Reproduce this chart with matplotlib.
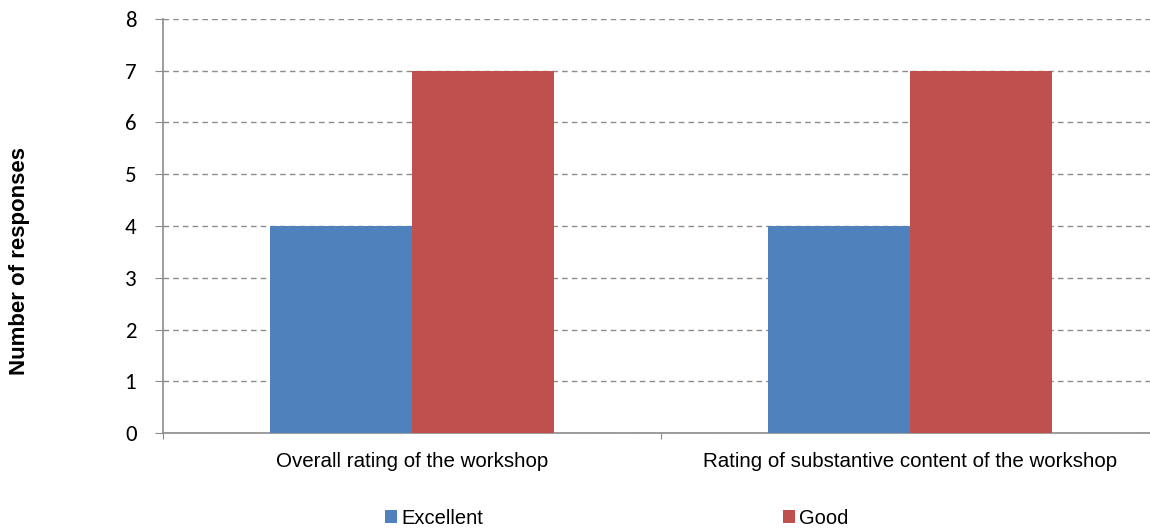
import matplotlib
matplotlib.use("Agg")
import matplotlib.pyplot as plt
from matplotlib.patches import Patch
import numpy as np

categories = ["Overall rating of the workshop", "Rating of substantive content of the workshop"]
series_names = ["Excellent", "Good"]
excellent = [4, 4]
good = [7, 7]
yticks = [0, 1, 2, 3, 4, 5, 6, 7, 8]

colors = ["#4F81BD", "#C0504D"]

plt.rcParams['font.family'] = ['Liberation Sans', 'DejaVu Sans']

fig = plt.figure(figsize=(11.5, 5.29), dpi=100)
ax = fig.add_axes([163/1150, 96/529, 996/1150, 414/529])

x = np.arange(len(categories))
w = 0.285
ax.bar(x - w/2, excellent, width=w, color=colors[0], zorder=3)
ax.bar(x + w/2, good, width=w, color=colors[1], zorder=3)

ax.set_xlim(-0.5, len(categories) - 0.5)
ax.set_ylim(0, 8)
ax.set_yticks(yticks)
ax.set_yticklabels([str(t) for t in yticks], fontsize=16.5, family=['Carlito', 'Lato', 'DejaVu Sans'])
ax.yaxis.grid(True, linestyle=(0, (4, 3)), color='#8c8c8c', linewidth=1, zorder=0)

ax.set_xticks([-0.5, 0.5, 1.5])
ax.set_xticklabels([])
ax.set_xticks(x, minor=True)
ax.set_xticklabels(categories, minor=True, fontsize=14.8)
ax.tick_params(axis='x', which='minor', length=0, pad=14)
ax.tick_params(axis='x', which='major', length=4, color='#8c8c8c', direction='out')
ax.tick_params(axis='y', length=6, color='#8c8c8c', direction='out', pad=13)

for s in ['top', 'right']:
    ax.spines[s].set_visible(False)
for s in ['left', 'bottom']:
    ax.spines[s].set_color('#8c8c8c')
    ax.spines[s].set_linewidth(1.2)

fig.text(20/1150, 1 - 261/529, "Number of responses", rotation=90, fontsize=16, fontweight='bold',
         ha='center', va='center')

handles = [Patch(facecolor=c) for c in colors]
fig.legend(handles, series_names, loc='center', bbox_to_anchor=(617/1150, 1 - 518/529), ncol=2,
           frameon=False, fontsize=14.5, handlelength=0.6, handleheight=0.6, handletextpad=0.2,
           columnspacing=14.9, borderpad=0)

fig.savefig("out.png", dpi=100)
